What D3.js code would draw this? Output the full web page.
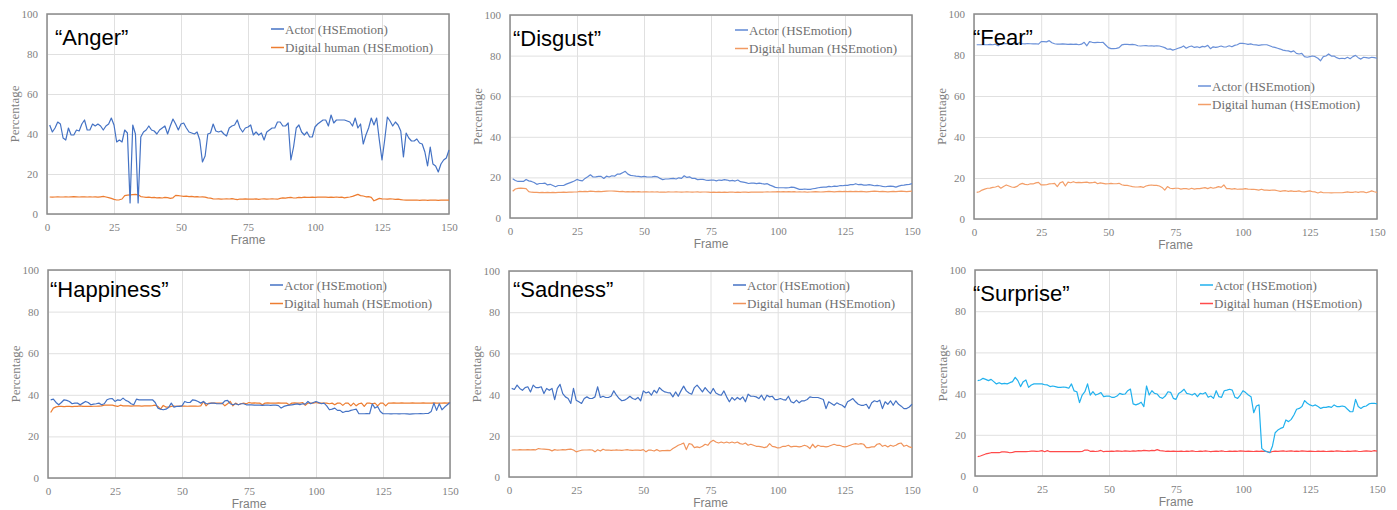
<!DOCTYPE html>
<html>
<head>
<meta charset="utf-8">
<script src="https://cdn.jsdelivr.net/npm/d3@7"></script>
<style>
  body { margin: 0; background: #fff; }
  svg { display: block; }
</style>
</head>
<body>
<svg id="chart" width="1397" height="510"></svg>
<script>
// Frame axis ticks and percentage ticks
const frameTicks = [0, 25, 50, 75, 100, 125, 150];
const percentTicks = [0, 20, 40, 60, 80, 100];
const actorLabel = 'Actor (HSEmotion)';

// Values per frame (frames 1..150)
const angerActor = [
  44.5, 41, 43, 46, 45, 38, 37, 43, 39.5, 39.5, 42, 41.5, 45, 47, 42, 42, 45, 44, 45, 44, 42, 44, 45, 48, 44.5,
  36, 37, 36, 42, 40.5, 5.5, 44.5, 40, 5.5, 38.5, 41, 42, 44, 42, 41.5, 40, 42, 43, 44, 40, 44, 47.5, 45, 42, 45,
  45.5, 43, 41, 40.5, 40, 41, 37, 26, 29, 40, 40.5, 45, 41.5, 41, 41.5, 40, 39, 43, 44, 44.5, 47, 43, 41, 43, 43.5,
  44.5, 39.5, 41, 39.5, 40.5, 37, 41, 42, 43, 43, 46, 46, 44, 44, 45.5, 27, 33.5, 43, 44.5, 41, 39.5, 41, 38.5, 38.5, 43.5,
  45, 46, 47, 47, 44, 49.5, 45.5, 47, 47, 47, 47, 46.5, 46, 44, 48, 43, 45, 35, 39.5, 43, 48, 44.5, 48, 37, 27,
  37, 48.5, 46.5, 44, 46, 44.5, 41.5, 28.5, 40.5, 38, 36.5, 36.5, 37.5, 35.5, 35, 31, 24, 33.5, 25, 24, 21, 25, 27, 28, 32
];
const angerDigital = [
  8.5, 8.4, 8.5, 8.6, 8.5, 8.5, 8.6, 8.5, 8.6, 8.7, 8.6, 8.5, 8.6, 8.6, 8.5, 8.6, 8.5, 8.6, 8.4, 8.6, 8.8, 8.5,
  8.2, 7.8, 7.3, 7.0, 7.1,
  7.5, 9.2, 9.4, 9.6, 9.7, 9.8, 9.6, 8.7,
  8.5, 8.3, 8.4, 8.2, 8.3, 8.1, 8.2, 8.0, 8.3, 8.2, 7.8, 8.1,
  9.3, 9.2, 9.0, 8.8, 8.9, 8.7, 8.8, 8.6,
  8.7, 8.5, 8.6, 8.4, 8.1, 7.9, 7.6, 7.5, 7.6, 7.4, 7.5, 7.6, 7.5, 7.7, 7.4, 7.2, 7.5, 7.4, 7.6, 7.4,
  7.5, 7.4, 7.6, 7.3, 7.5, 7.6, 7.4, 7.5, 7.6, 7.5, 7.4, 7.8, 8.1, 7.9, 8.2, 8.3, 8.0, 8.1, 8.3, 8.2, 8.4, 8.3, 8.3, 8.4, 8.3,
  8.4, 8.4, 8.5, 8.4, 8.3, 8.4, 8.3, 8.5, 8.3, 8.4, 8.1, 8.3, 8.5, 8.8, 9.3, 9.8, 9.2, 9.0, 8.6, 8.7, 8.3,
  6.6, 7.2, 7.8, 7.6, 7.5, 7.4, 7.6, 7.5, 7.3, 7.4, 7.2, 7.0, 6.9, 6.9, 7.0, 6.9, 7.0, 6.8, 6.9, 7.0, 6.8, 6.9, 7.0, 6.9, 6.8, 6.9, 7.0, 6.9, 6.9
];

const disgustActor = [
  19.3, 18.5, 18, 18, 18, 19, 18.3, 18, 17.5, 16.6, 17, 17, 17.2, 16.3, 16.6, 16, 15.4, 16, 16, 16, 16.7, 17.2, 17.7, 18.2, 19,
  18.5, 18.3, 19.5, 20.3, 21.3, 20.2, 20.3, 20.5, 20.5, 19.5, 20.6, 20.2, 20.8, 20.6, 21.6, 21.6, 22.3, 23, 21.6, 21, 20.8, 20.6, 20.5, 20.3, 20.5,
  20.3, 20.2, 20.3, 20.5, 20.3, 19.5, 18.9, 19.2, 19.2, 19.4, 19.5, 19.2, 19.8, 19.5, 20.8, 20, 20.3, 19.5, 19.5, 18.9, 19, 19, 18.7, 18.5, 18.7,
  18.7, 18.3, 18.7, 18.5, 18.9, 18.7, 18.3, 18.5, 18.2, 18.7, 17.9, 17.7, 17.4, 17, 17.2, 17.2, 16.9, 17.2, 16.9, 16.7, 16.9, 16.2, 15.7, 15.1, 14.9,
  14.9, 14.9, 14.8, 14.9, 15.2, 15.1, 14.6, 14.1, 14.1, 14.3, 14.1, 14.1, 14.4, 14.6, 14.9, 15.1, 15.2, 15.2, 15.6, 15.4, 15.7, 15.6, 15.9, 15.9, 16.1,
  16.1, 16.4, 16.4, 16.9, 16.4, 16.6, 16.2, 16.2, 16.4, 16.2, 15.9, 16.1, 15.9, 15.6, 15.4, 15.6, 15.7, 15.6, 15.2, 15.7, 16.1, 16.2, 16.4, 16.6, 16.9
];
const disgustDigital = [
  13.2, 14.3, 14.6, 14.7, 14.6, 14.5, 13.0,
  12.7, 12.6, 12.6, 12.5, 12.6, 12.5, 12.6, 12.5, 12.6, 12.5, 12.6, 12.6, 12.7, 12.6, 12.7, 12.7, 12.8, 12.8,
  13.1, 13.0, 13.1, 13.0, 13.2, 13.1, 13.0, 13.1, 13.0, 13.1, 13.2, 13.3, 13.3, 13.2, 13.1, 13.0, 13.1, 12.9, 13.0, 12.9, 13.0, 12.9, 13.0, 12.8, 12.9,
  12.9, 12.8, 12.9, 12.8, 12.9, 12.7, 12.8, 12.7, 12.9, 12.8, 12.8, 12.9, 12.8, 12.7, 12.8, 12.9, 12.8, 12.7, 12.8, 12.9, 12.7, 12.8, 12.8, 12.7, 12.6,
  12.7, 12.6, 12.7, 12.6, 12.7, 12.6, 12.7, 12.8, 12.6, 12.7, 12.6, 12.8, 12.7, 12.6, 12.7, 12.8, 12.7, 12.8, 12.7, 12.8, 12.9, 12.8, 12.9, 12.9, 13.0,
  12.9, 13.0, 12.9, 13.0, 12.9, 13.0, 12.8, 12.9, 12.8, 12.9, 12.7, 12.8, 12.9, 13.0, 12.9, 12.8, 12.9, 13.0, 13.1, 13.0, 12.9, 13.0, 13.1, 13.0, 13.1,
  13.0, 13.1, 13.0, 13.1, 13.0, 13.1, 13.0, 12.9, 13.0, 13.1, 13.2, 13.1, 13.0, 13.1, 13.0, 12.9, 13.0, 13.1, 13.0, 13.1, 13.2, 13.1, 13.0, 13.1, 13.2
];

const fearActor = [
  85, 85, 85, 85, 85, 85.2, 85, 85.3, 84.5, 85.5, 85.5, 85.6, 85.4, 85.5, 85.6, 85.5, 86, 85.5, 85.4, 85.6, 85.5, 85.4, 85.5, 85.3, 86.5,
  86.5, 86.4, 87, 86, 85.5, 85.3, 85.3, 85.4, 85.3, 85.2, 85.3, 85.2, 85.3, 85, 85.3, 86.2, 84.5, 86.5, 86.2, 86, 86.2, 86.1, 86.2, 84.9, 83.6,
  83.1, 83.1, 83.2, 83.6, 84.9, 85.2, 85.2, 85.1, 85.2, 85, 84.5, 84.4, 84.5, 84.6, 84.4, 84.5, 84.3, 84.5, 84.4, 84, 83.6, 82.8, 83, 82.4, 82.8,
  83.3, 83.7, 84.4, 83.3, 84, 84.4, 83.7, 84, 83.6, 84.2, 84, 84.7, 83.1, 84, 83.7, 84, 84.4, 83.9, 84, 84.5, 84, 84.7, 85, 85.7, 85.7,
  85.5, 85.2, 85.4, 85, 84.9, 84.7, 84.9, 85, 85, 84.5, 84, 83.7, 83.3, 82.9, 82.4, 82.1, 82, 81.5, 82, 80.8, 80.5, 80.8, 79.2, 78.9, 79.2,
  79.5, 79.2, 78.4, 77.2, 79.2, 79.5, 80.5, 79.5, 79.5, 78.7, 78.2, 78.4, 78.2, 78.9, 78.2, 79.2, 79.8, 78.7, 78, 78.9, 78.7, 78.5, 78.9, 78.7, 78.4
];
const fearDigital = [
  13, 13.3, 14.1, 14.6, 15, 15.1, 15.4, 15.6, 16.1, 15, 15.9, 16.6, 16.1, 15.6, 15.4, 15.9, 16.9, 17.4, 16.9, 16.7, 17.2, 17.1, 17.6, 17.9, 16.6,
  16.6, 16.7, 17.1, 17.2, 17.4, 15.8, 17.6, 18.2, 16.1, 18, 17.7, 18.2, 17.7, 17.9, 17.7, 17.9, 18, 17.6, 17.7, 18, 17.2, 17.6, 17.4, 17.1, 17.2,
  17.4, 17.2, 17.2, 17.4, 16.7, 16.4, 16.4, 16.1, 15.8, 15.6, 15.6, 15.8, 15.4, 16.1, 16.4, 16.6, 16.4, 16.4, 16.1, 15.4, 14.1, 15.8, 15, 14.8, 15,
  15, 14.6, 14.8, 14.8, 14.5, 15, 14.6, 14.8, 14.8, 15.1, 15.3, 14.8, 15.4, 15, 15.3, 15.8, 15.4, 16.6, 14.8, 14.8, 14.6, 14.8, 14.5, 14.6, 14.6,
  14.8, 14.6, 14.5, 14.5, 14.3, 14.1, 14.5, 14.1, 14.1, 14, 14.1, 14.1, 13.8, 13.5, 13.7, 13.8, 13.5, 13.7, 13.5, 13.5, 13.7, 13.3, 13.2, 13.5, 13.7,
  13.3, 13.2, 12.7, 13.2, 12.8, 12.8, 12.8, 12.7, 12.8, 12.8, 12.8, 12.8, 13, 13.2, 13, 13, 13.3, 13, 13.3, 13.2, 12.8, 13.2, 13.7, 13.3, 13
];

const happinessActor = [
  37.6, 37.9, 36.3, 35.2, 36.3, 37.6, 37.3, 36.8, 35.7, 36, 36, 35.2, 36, 36.8, 36.3, 35.2, 35.5, 35.7, 36, 35.2, 35.7, 37.6, 38.1, 38.2, 36.8,
  37.6, 37.3, 38.4, 37.3, 36.8, 35.7, 35.2, 37.9, 37.6, 37.6, 37.6, 37.6, 37.6, 37.6, 36.3, 33.6, 33.1, 32.8, 33.1, 33.9, 36, 34.1, 34.4, 34.4, 34.7,
  36.8, 36.3, 36.3, 37.6, 37.3, 36.8, 36, 36.8, 35.7, 35.7, 36, 36, 35.7, 35.7, 35.7, 37.1, 37.3, 35.7, 35.2, 35.7, 35.2, 35.7, 35.7, 35.2, 35.2,
  35.2, 35, 35.1, 35, 34.9, 35, 35.1, 34.9, 35, 35, 34.8, 33.6, 34.4, 34.8, 35, 35.2, 35.4, 35.6, 35.3, 35.7, 35.5, 36.8, 35.7, 36.3, 36.8,
  36.3, 35.7, 36, 34.7, 32.8, 33.1, 33.6, 32.5, 32.5, 31.5, 32, 32, 32.5, 32.8, 33.1, 30.9, 30.9, 30.9, 31, 30.9, 35.7, 33.6, 34.4, 32, 30.9,
  30.9, 30.9, 30.8, 30.9, 30.9, 30.8, 30.9, 30.9, 30.8, 30.7, 30.8, 30.9, 30.9, 31, 30.9, 31, 31.1, 32, 36, 32.5, 35.7, 32.8, 34.1, 35.2, 36.3
];
const happinessDigital = [
  31.5, 33.6, 34.2, 34.4, 34.4, 34.3, 34.4, 34.4, 34.3, 34.4, 34.4, 34.7, 34.4, 34.4, 34.5, 34.4, 34.5, 34.5, 34.6, 34.7, 35, 35, 35, 35, 34.7,
  34.4, 35, 34.7, 34.7, 34.7, 34.6, 34.7, 34.7, 34.7, 34.6, 34.7, 34.7, 34.7, 34.8, 35, 34.4, 33.1, 34.9, 34.1, 34.1, 34.4, 34.6, 34.5, 34.6, 34.6,
  34.6, 34.5, 34.6, 34.6, 34.6, 34.5, 34.7, 36.8, 34.7, 36, 36, 36, 36, 36, 36, 34.7, 35.7, 36.8, 34.7, 36, 35.2, 35.7, 36, 35.7, 36.3,
  36, 36.1, 36, 36, 35.2, 36, 36.1, 36, 36, 36, 36.1, 36, 36, 36, 35.2, 36, 36.1, 36, 36, 36.3, 34.9, 36, 36, 36, 36.3,
  36, 36, 36, 36, 35.7, 36, 35.2, 36, 36, 34.9, 36, 36, 34.7, 36, 34.7, 35.7, 36, 34.4, 36, 36, 35.7, 36, 34.7, 36, 36,
  34.7, 36, 36, 36.1, 36, 36, 36.1, 36, 36, 36, 36.1, 36, 36, 36, 36.1, 36, 36, 36, 36.1, 36, 36, 36, 36.1, 36, 36.2
];

const sadnessActor = [
  43, 42.5, 44.6, 43, 42.1, 43.4, 43.8, 41.3, 44.6, 43.4, 43.4, 43.8, 40.5, 43, 42.1, 43, 37.6, 43, 45, 40.5, 38.9, 38.1, 35.7, 43, 37.3,
  36.5, 35.7, 38.1, 38.9, 38.1, 38.1, 38.9, 43.8, 38.6, 39.2, 38.6, 38.6, 39.2, 41.8, 39.7, 38.1, 37, 37.3, 38.1, 39.2, 38.1, 37.6, 38.6, 37, 41.8,
  40.8, 41.3, 39.7, 42.1, 40.8, 43.4, 42.1, 41.3, 41, 40.8, 38.9, 41.3, 39.2, 41.8, 44.1, 41.8, 40.8, 40.2, 43.4, 44.6, 43, 41.3, 43.4, 41.8, 40.5,
  43, 40.8, 40, 39.7, 41.8, 38.9, 36.5, 38.6, 37.3, 38.6, 37.6, 38.9, 36.5, 40.2, 39.2, 39.2, 38.9, 38.1, 39.7, 37.3, 39.7, 38.9, 39.2, 37.6, 37.6,
  38.1, 37.6, 37.3, 39.2, 36.5, 36, 37.3, 36, 37, 37, 37.6, 38.9, 38.6, 38.6, 38.6, 38.1, 37.6, 33.2, 36.5, 35.7, 34.8, 36, 35.3, 34.8, 33.7,
  36.5, 37.3, 38.1, 36.5, 35.3, 34.8, 34.8, 35.3, 33.2, 36, 37, 36.5, 37.3, 33.2, 36.5, 35.3, 37, 34.8, 37, 35.3, 34.4, 33.2, 33.2, 34, 35.3
];
const sadnessDigital = [
  13.1, 13.2, 13.1, 13.3, 13.2, 13.2, 13.3, 13.2, 13.3, 13.2, 13.8, 13.6, 13.5, 13.4, 13.3, 12.7, 13.3, 13, 13.1, 13.3, 13.2, 13.4, 13.5, 13.1, 12.2,
  12.6, 13, 13.1, 13.1, 13.2, 13.1, 12.2, 13.2, 12.6, 13.5, 13, 13.1, 12.9, 13, 13.2, 13, 12.9, 13.1, 13.3, 13, 12.9, 13.1, 13, 12.9, 13.3,
  12.2, 13.1, 13, 12.6, 13.3, 12.6, 12.8, 12.8, 12.9, 12.8, 13.8, 14.6, 15.4, 15.9, 16.5, 13.3, 16.2, 15.9, 14.3, 14.6, 14.3, 14.9, 15.9, 15.4, 17,
  17.8, 17, 16.5, 17, 16.5, 17, 16.5, 17, 16.5, 17, 16.2, 15.9, 16.5, 15.4, 15.9, 15.4, 14.9, 14.9, 14.6, 14.3, 14.6, 16.2, 14.9, 14.6, 14.1,
  14.3, 14.9, 14.9, 15.4, 14.6, 14.9, 14.9, 14.6, 14.9, 15.4, 14.9, 13.8, 15.9, 14.3, 15.4, 14.9, 14.9, 14.6, 14.9, 15.4, 15.9, 15.4, 15.4, 14.9, 14.6,
  14.9, 15.4, 15.9, 16.2, 15.9, 16.2, 15.9, 14.3, 14.3, 14.6, 14.6, 15.9, 16.2, 14.9, 15.4, 14.6, 15.4, 14.9, 15.4, 16.2, 16.5, 14.9, 15.4, 14.6, 14.3
];

const surpriseActor = [
  46.3, 46.6, 47.4, 46.9, 46.3, 46.9, 45.8, 44.7, 45.3, 44.7, 45, 44.7, 45.3, 45.8, 47.9, 46.3, 43.4, 45.8, 46.6, 43, 44.2, 44.7, 44.7, 44.7, 44.7,
  44.3, 44.2, 43.4, 43.7, 43.4, 43, 43, 43.2, 43, 42.6, 44.7, 41.3, 40.9, 35.6, 39.3, 40.9, 44.7, 39.3, 40.9, 39.3, 39.8, 40.5, 38.5, 38.8, 38.8,
  38.2, 38.2, 38.8, 40.1, 39.6, 39.8, 41.4, 42.2, 35, 34.5, 35, 35.8, 33.7, 43.7, 39.3, 41.4, 40.1, 39.8, 38.2, 37.7, 38.8, 40.9, 40.6, 37.7, 37.2,
  40.1, 40.9, 42.1, 40.1, 39.8, 39.3, 40.1, 38.5, 40.1, 39.8, 40.5, 38.2, 38.8, 37.7, 41.4, 38.5, 38.2, 41.4, 41.7, 42.1, 41.7, 38.2, 37.7, 39.3, 41.4,
  40.5, 39.3, 38.5, 30.7, 34, 34.5, 13.4, 12.3, 11.8, 11.3, 14.6, 21, 22.3, 23.1, 23.6, 27.2, 26.4, 27.5, 29.6, 32.4, 32.8, 33.7, 36.6, 35.3, 34.5,
  34, 34.5, 33.7, 32.8, 33.3, 33.3, 33.7, 33.3, 34.5, 33.7, 33.7, 34, 33.7, 32.4, 31.2, 31.2, 37.2, 33.7, 32.8, 33.7, 34, 35, 35.3, 35.3, 35
];
const surpriseDigital = [
  9.4, 9.7, 10.2, 10.7, 11, 11.3, 11.3, 11.4, 11.3, 11.7, 11.7, 11.6, 11.3, 11.5, 11.8, 11.8, 11.9, 11.8, 11.8, 11.9, 12.1, 12.1, 12, 12.1, 12.3,
  11.8, 12.3, 11.8, 11.9, 11.8, 11.9, 11.8, 11.9, 11.8, 11.9, 11.8, 11.9, 11.8, 11.8, 11.9, 12.6, 12.6, 12, 12.1, 11.9, 12.1, 12.4, 11.8, 12, 12,
  12.1, 12, 12.2, 12.1, 12, 12.2, 12.1, 12, 12.2, 12.1, 12.3, 12.2, 12.4, 12.3, 12.2, 12.4, 12.3, 12.8, 12.3, 12.2, 12, 12.1, 12, 12.1, 12,
  12, 12.1, 11.9, 12.1, 12, 12.2, 12, 11.9, 12.1, 12, 12.2, 12, 11.8, 12, 12.1, 12, 12.2, 12, 11.9, 12.1, 12, 12.1, 12, 12.2, 12.1,
  12, 12.1, 12, 11.9, 12.1, 12, 12.1, 12, 11.8, 11.5, 11.9, 12.1, 12, 12.1, 12.2, 12, 12.1, 12.2, 12, 12.1, 12, 12.2, 12.1, 12, 12.1,
  12, 11.9, 12.1, 12, 12.1, 11.9, 12, 12.1, 12, 12.2, 12.1, 12, 11.9, 12.1, 12, 12.1, 12.2, 12, 11.9, 12.1, 12.2, 12.1, 12, 12.3, 12.1
];

// Panel layout (pixel geometry of each plot area, title and legend anchor)
const panels = [
  { title: '\u201CAnger\u201D', actor: angerActor, digital: angerDigital, digitalLabel: 'Digital human (HSEmotion)',
    x: 47, y: 14, w: 402, h: 200, tx: 55, ty: 45, lx: 271, ly: 29, ca: '#4472c4', cd: '#ed7d31' },
  { title: '\u201CDisgust\u201D', actor: disgustActor, digital: disgustDigital, digitalLabel: 'Digital human (HSEmotion)',
    x: 510, y: 15, w: 402, h: 203, tx: 513, ty: 46, lx: 735, ly: 30, ca: '#5f88d4', cd: '#f29a62' },
  { title: '\u201CFear\u201D', actor: fearActor, digital: fearDigital, digitalLabel: 'Digital human (HSEmotion)',
    x: 974, y: 14, w: 403, h: 205, tx: 973, ty: 45, lx: 1198, ly: 86, ca: '#6a90d8', cd: '#f39e68' },
  { title: '\u201CHappiness\u201D', actor: happinessActor, digital: happinessDigital, digitalLabel: 'Digital humah (HSEmotion)',
    x: 48, y: 270, w: 402, h: 208, tx: 50, ty: 297, lx: 270, ly: 285, ca: '#4472c4', cd: '#ed7d31' },
  { title: '\u201CSadness\u201D', actor: sadnessActor, digital: sadnessDigital, digitalLabel: 'Digital human (HSEmotion)',
    x: 509, y: 271, w: 403, h: 206, tx: 513, ty: 297, lx: 733, ly: 285, ca: '#4472c4', cd: '#f0935a' },
  { title: '\u201CSurprise\u201D', actor: surpriseActor, digital: surpriseDigital, digitalLabel: 'Digital human (HSEmotion)',
    x: 975, y: 270, w: 402, h: 206, tx: 973, ty: 301, lx: 1200, ly: 285, ca: '#21b1ee', cd: '#ff4b4b' }
];

const svg = d3.select('#chart');
const serif = '"Liberation Serif", "Times New Roman", serif';
const sans = '"Liberation Sans", Arial, sans-serif';

panels.forEach(p => {
  const xScale = d3.scaleLinear().domain([0, 150]).range([p.x, p.x + p.w]);
  const yScale = d3.scaleLinear().domain([0, 100]).range([p.y + p.h, p.y]);
  const g = svg.append('g');

  // Gridlines + tick labels
  const xAxis = g.append('g')
    .attr('transform', `translate(0,${p.y + p.h})`)
    .call(d3.axisBottom(xScale).tickValues(frameTicks).tickSize(-p.h).tickPadding(9));
  const yAxis = g.append('g')
    .attr('transform', `translate(${p.x},0)`)
    .call(d3.axisLeft(yScale).tickValues(percentTicks).tickSize(-p.w).tickPadding(9));

  [xAxis, yAxis].forEach(ax => {
    ax.select('.domain').remove();
    ax.selectAll('line').attr('stroke', '#e0e0e0').attr('stroke-width', 1);
    ax.selectAll('text')
      .attr('fill', '#7f7f7f')
      .attr('font-family', serif)
      .attr('font-size', '11px');
  });

  // Plot border
  g.append('rect')
    .attr('x', p.x).attr('y', p.y)
    .attr('width', p.w).attr('height', p.h)
    .attr('fill', 'none')
    .attr('stroke', '#8a8a8a')
    .attr('stroke-width', 1.5);

  // Axis titles
  g.append('text')
    .attr('x', p.x + p.w / 2).attr('y', p.y + p.h + 30)
    .attr('text-anchor', 'middle')
    .attr('font-family', sans).attr('font-size', '12px')
    .attr('fill', '#7f7f7f')
    .text('Frame');
  g.append('text')
    .attr('transform', `translate(${p.x - 28},${p.y + p.h / 2}) rotate(-90)`)
    .attr('text-anchor', 'middle')
    .attr('font-family', serif).attr('font-size', '13px')
    .attr('fill', '#7f7f7f')
    .text('Percentage');

  // Lines
  const line = d3.line()
    .x((d, i) => xScale(i + 1))
    .y(d => yScale(d));

  g.append('path')
    .datum(p.digital)
    .attr('d', line)
    .attr('fill', 'none')
    .attr('stroke', p.cd)
    .attr('stroke-width', 1.2)
    .attr('stroke-linejoin', 'round');
  g.append('path')
    .datum(p.actor)
    .attr('d', line)
    .attr('fill', 'none')
    .attr('stroke', p.ca)
    .attr('stroke-width', 1.2)
    .attr('stroke-linejoin', 'round');

  // Legend
  const legend = [
    { label: actorLabel, color: p.ca },
    { label: p.digitalLabel, color: p.cd }
  ];
  legend.forEach((d, i) => {
    const ly = p.ly + i * 18.5;
    g.append('line')
      .attr('x1', p.lx).attr('x2', p.lx + 13)
      .attr('y1', ly).attr('y2', ly)
      .attr('stroke', d.color).attr('stroke-width', 1.5);
    g.append('text')
      .attr('x', p.lx + 14).attr('y', ly + 4.5)
      .attr('font-family', serif).attr('font-size', '13px')
      .attr('fill', '#6f6f6f')
      .text(d.label);
  });

  // Emotion title
  g.append('text')
    .attr('x', p.tx).attr('y', p.ty)
    .attr('font-family', sans).attr('font-size', '22px')
    .attr('fill', '#000')
    .text(p.title);
});
</script>
</body>
</html>
